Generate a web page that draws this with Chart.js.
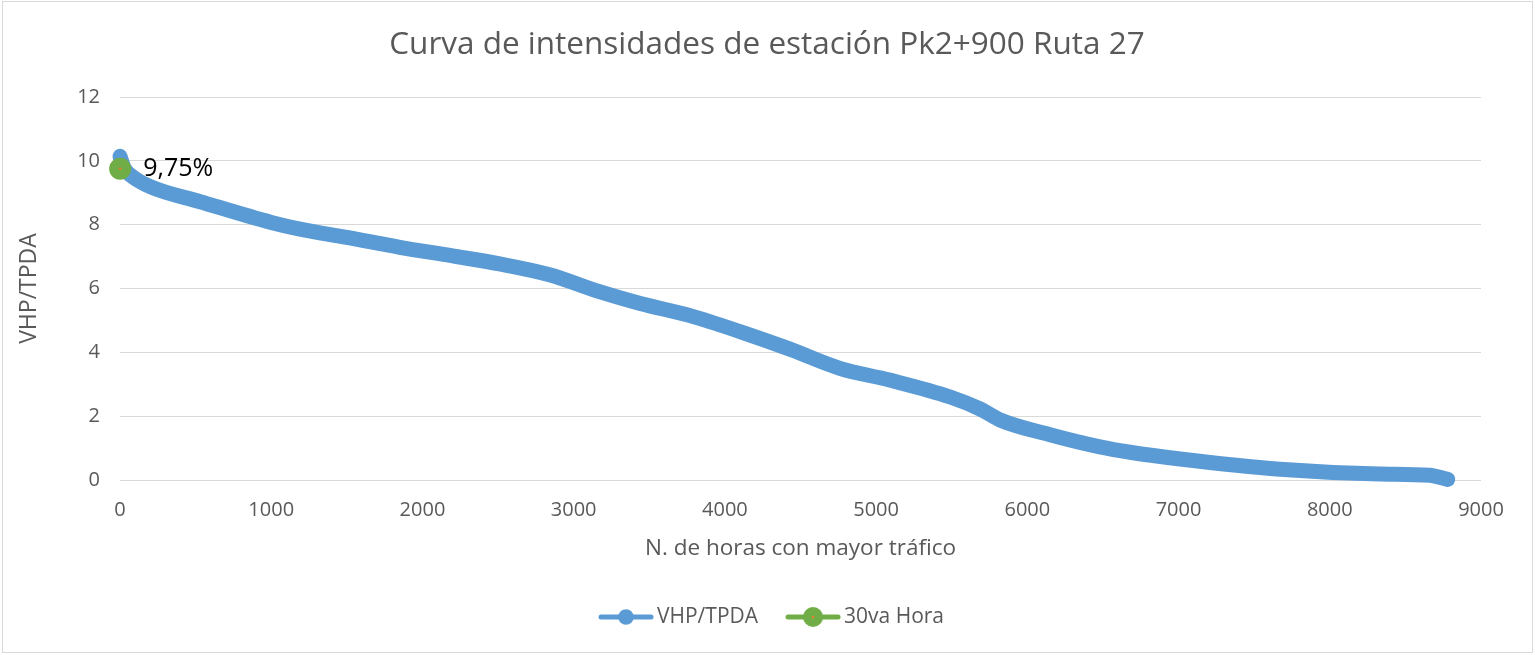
<!DOCTYPE html>
<html>
<head>
<meta charset="utf-8">
<script src="https://cdn.jsdelivr.net/npm/chart.js@4.4.1/dist/chart.umd.min.js"></script>
<style>
  html, body { margin: 0; padding: 0; background: #fff; }
  #box { width: 1535px; height: 655px; }
</style>
</head>
<body>
<div id="box"><canvas id="chart" width="1535" height="655"></canvas></div>
<script>
    'use strict';

    // datos
    var hours = [0, 30, 70, 200, 530, 1000, 1190, 1500, 1850, 2200, 2510, 2840, 3170, 3440, 3770, 4100, 4430, 4760, 5090, 5490, 5690, 5820, 6150, 6480, 6680, 7010, 7670, 8330, 8660, 8780];
    var ratio = [10.14, 9.75, 9.55, 9.19, 8.72, 8.07, 7.86, 7.6, 7.29, 7.02, 6.77, 6.43, 5.9, 5.53, 5.15, 4.65, 4.1, 3.5, 3.13, 2.6, 2.22, 1.88, 1.42, 1.04, 0.87, 0.66, 0.34, 0.19, 0.15, 0.02];

    var hour30 = [1];
    var ratio30 = [9.75];
    var label30 = ['9,75%'];

    var xTicks = [0, 1000, 2000, 3000, 4000, 5000, 6000, 7000, 8000, 9000];
    var yTicks = [0, 2, 4, 6, 8, 10, 12];

    var seriesNames = ['VHP/TPDA', '30va Hora'];
    var chartTitle = 'Curva de intensidades de estación Pk2+900 Ruta 27';

    var blue = '#5b9bd5',
        green = '#70ad47',
        orange = '#ed7d31',
        grey = '#595959';

    var fontName = '"Open Sans", "Noto Sans", sans-serif';

    function toPoints(xs, ys) {
        var out = [];
        for (var i = 0; i < xs.length; i++) {
            out.push({x: xs[i], y: ys[i]});
        }
        return out;
    }

    // icono de leyenda: linea + marcador
    function legendIcon(color, r, dot) {
        var c = document.createElement('canvas');
        c.width = 56;
        c.height = 24;
        var g = c.getContext('2d');
        g.strokeStyle = color;
        g.lineWidth = 5;
        g.lineCap = 'round';
        g.beginPath();
        g.moveTo(3, 12);
        g.lineTo(53, 12);
        g.stroke();
        g.fillStyle = color;
        g.beginPath();
        g.arc(28, 12, r, 0, Math.PI * 2);
        g.fill();
        if (dot) {
            g.fillStyle = orange;
            g.beginPath();
            g.arc(28, 12, 1.3, 0, Math.PI * 2);
            g.fill();
        }
        return c;
    }

    var icons = [legendIcon(blue, 7.8, false), legendIcon(green, 10, true)];

    var frame = {
        id: 'frame',
        beforeDraw: function (chart) {
            var ctx = chart.ctx;
            ctx.save();
            ctx.fillStyle = '#fff';
            ctx.fillRect(0, 0, chart.width, chart.height);
            ctx.strokeStyle = '#d9d9d9';
            ctx.lineWidth = 1;
            ctx.strokeRect(2.5, 1.5, 1530, 651);
            // titulo centrado en todo el lienzo, como en Excel
            ctx.fillStyle = grey;
            ctx.font = '31.5px ' + fontName;
            ctx.textAlign = 'center';
            ctx.textBaseline = 'middle';
            ctx.fillText(chartTitle, 767, 45);
            ctx.restore();
        },
        afterDatasetsDraw: function (chart) {
            var ctx = chart.ctx;
            var meta = chart.getDatasetMeta(1);
            var pt = meta.data[0];
            ctx.save();
            ctx.fillStyle = orange;
            ctx.beginPath();
            ctx.arc(pt.x, pt.y, 1.3, 0, Math.PI * 2);
            ctx.fill();
            ctx.fillStyle = '#000';
            ctx.font = '25px ' + fontName;
            ctx.textAlign = 'left';
            ctx.textBaseline = 'middle';
            ctx.fillText(label30[0], pt.x + 23, pt.y);
            ctx.restore();
        },
        // leyenda tipo Excel: linea + marcador + texto
        afterDraw: function (chart) {
            var ctx = chart.ctx;
            ctx.save();
            ctx.font = '21px ' + fontName;
            ctx.textBaseline = 'middle';
            ctx.textAlign = 'left';
            ctx.fillStyle = grey;
            var gap = 3, between = 27, iconW = 56;
            var total = 0;
            seriesNames.forEach(function (name, i) {
                total += iconW + gap + ctx.measureText(name).width;
                if (i > 0) total += between;
            });
            var x = 771 - total / 2, y = 617;
            seriesNames.forEach(function (name, i) {
                ctx.drawImage(icons[i], x, y - 12);
                x += iconW + gap;
                ctx.fillText(name, x, y);
                x += ctx.measureText(name).width + between;
            });
            ctx.restore();
        }
    };

    var options = {
        type: 'scatter',
        data: {
            datasets: [{
                label: seriesNames[0],
                data: toPoints(hours, ratio),
                showLine: true,
                clip: false,
                borderColor: blue,
                backgroundColor: blue,
                borderWidth: 15,
                borderCapStyle: 'round',
                borderJoinStyle: 'round',
                cubicInterpolationMode: 'monotone',
                pointRadius: 0,
                order: 1
            }, {
                label: seriesNames[1],
                data: toPoints(hour30, ratio30),
                clip: false,
                backgroundColor: green,
                borderColor: green,
                borderWidth: 0,
                pointRadius: 11,
                order: 0
            }]
        },
        options: {
            responsive: false,
            animation: false,
            events: [],
            layout: {
                padding: {left: 10, right: 54, top: 97, bottom: 71}
            },
            plugins: {
                title: {display: false},
                legend: {display: false},
                tooltip: {enabled: false}
            },
            scales: {
                x: {
                    type: 'linear',
                    position: 'bottom',
                    min: 0,
                    max: 9000,
                    afterBuildTicks: function (scale) {
                        scale.ticks = xTicks.map(function (v) { return {value: v}; });
                    },
                    afterFit: function (scale) {
                        scale.height = 104;
                    },
                    grid: {display: false},
                    border: {display: false},
                    ticks: {
                        color: grey,
                        padding: 10,
                        maxRotation: 0,
                        font: {family: fontName, size: 20},
                        callback: function (v) { return String(v); }
                    },
                    title: {
                        display: true,
                        text: 'N. de horas con mayor tráfico',
                        color: grey,
                        font: {family: fontName, size: 22.5},
                        padding: {top: 0, bottom: 22}
                    }
                },
                y: {
                    min: 0,
                    max: 12,
                    afterBuildTicks: function (scale) {
                        scale.ticks = yTicks.map(function (v) { return {value: v}; });
                    },
                    afterFit: function (scale) {
                        scale.width = 110;
                    },
                    grid: {color: '#d9d9d9', lineWidth: 1, drawTicks: false},
                    border: {display: false},
                    ticks: {
                        color: grey,
                        padding: 20,
                        font: {family: fontName, size: 20},
                        callback: function (v) { return String(v); }
                    },
                    title: {
                        display: true,
                        text: 'VHP/TPDA',
                        color: grey,
                        font: {family: fontName, size: 23},
                        padding: {top: 6, bottom: 0}
                    }
                }
            }
        },
        plugins: [frame]
    };

    var ctx = document.getElementById('chart').getContext('2d');
    var myChart = new Chart(ctx, options);
</script>
</body>
</html>
